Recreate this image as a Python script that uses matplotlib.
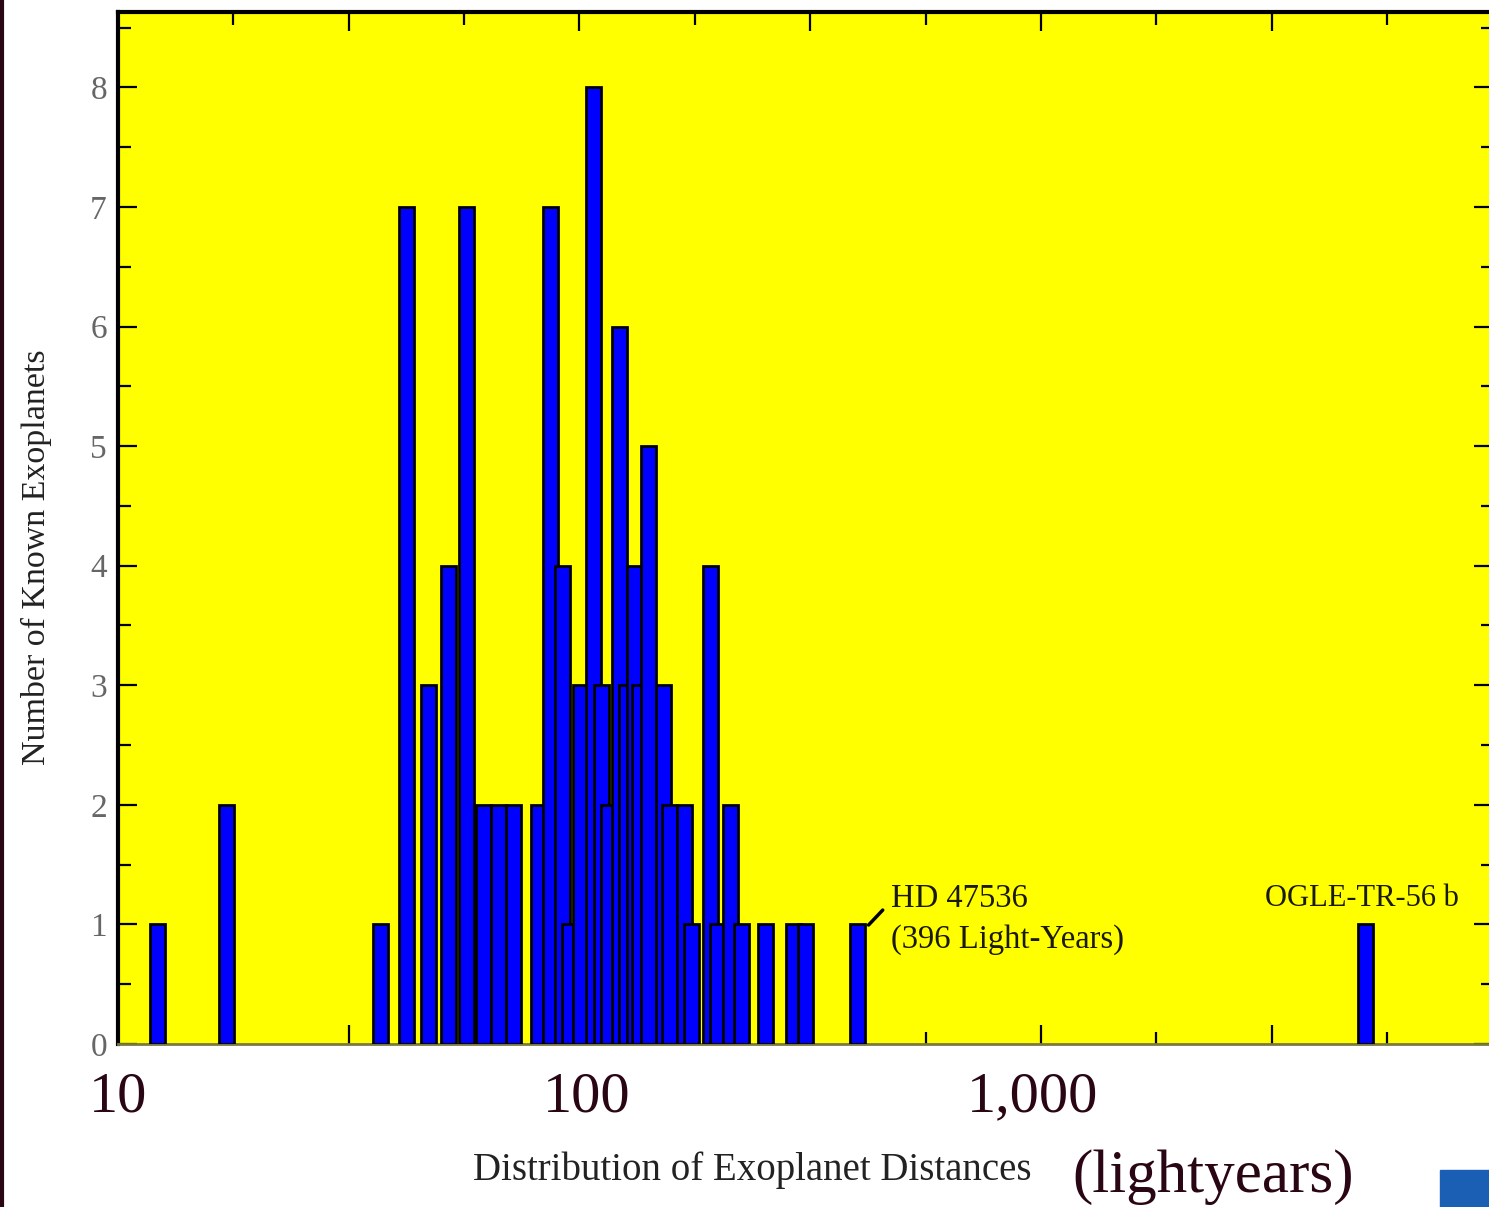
import numpy as np
import matplotlib
matplotlib.use("Agg")
import matplotlib.pyplot as plt
from matplotlib.ticker import FixedLocator, NullFormatter
from matplotlib.lines import Line2D
from matplotlib.patches import Rectangle

# ---- data (distance in light-years, number of planets) ----
distances = [12.2, 17.2, 37.1, 42.1, 47.0, 51.9, 56.8, 61.8, 66.7, 71.9,
             81.4, 86.5, 91.9, 95.1, 100.5, 107.3, 111.6, 115.6, 122.2, 126.5,
             131.7, 134.9, 141.3, 152.3, 156.9, 169.1, 175.2, 192.7, 199.5,
             212.9, 223.9, 252.5, 290.4, 308.4, 400.0, 5050.0]
counts = [1, 2, 1, 7, 3, 4, 7, 2, 2, 2,
          2, 7, 4, 1, 3, 8, 3, 2, 6, 3,
          4, 3, 5, 3, 2, 2, 1, 4, 1,
          2, 1, 1, 1, 1, 1, 1]
y_ticks = [0, 1, 2, 3, 4, 5, 6, 7, 8]
x_labels = ["10", "100", "1,000"]
x_label_vals = [10, 100, 1000]
x_label_shift_px = [0, 7, -8]

YELLOW = "#FFFF00"
BLUE = "#0000FF"
MAROON = "#2a0614"
SERIF = ["Liberation Serif", "DejaVu Serif"]

fig = plt.figure(figsize=(14.89, 12.07), dpi=100)
fig.patch.set_facecolor("white")
ax = fig.add_axes([118 / 1489, 1 - 1044 / 1207, (1489 - 118) / 1489 + 0.003, (1044 - 12) / 1207])
ax.set_facecolor(YELLOW)
ax.set_xscale("log")
decade_px = 460.0
ax.set_xlim(10, 10 ** (1 + (1489 - 118) / decade_px))
ax.set_ylim(0, 8.63)

# bars of constant pixel width on the log axis
hw = 7.5 / decade_px
d = np.array(distances)
lefts = d * 10 ** (-hw)
widths = d * (10 ** hw - 10 ** (-hw))
ax.bar(lefts, counts, width=widths, align="edge", color=BLUE,
       edgecolor="black", linewidth=2.0, zorder=3)

# ticks
maj = [10 ** (1 + 0.5 * k) for k in range(0, 7)]
mnr = [10 ** (1.25 + 0.5 * k) for k in range(0, 6)]
ax.xaxis.set_major_locator(FixedLocator(maj))
ax.xaxis.set_minor_locator(FixedLocator(mnr))
ax.xaxis.set_major_formatter(NullFormatter())
ax.xaxis.set_minor_formatter(NullFormatter())
ax.yaxis.set_major_locator(FixedLocator(y_ticks))
ax.yaxis.set_minor_locator(FixedLocator([v + 0.5 for v in y_ticks]))
ax.tick_params(which="both", direction="in", top=True, right=True, color="black")
ax.tick_params(which="major", length=14, width=1.6)
ax.tick_params(which="minor", length=9, width=1.6)
ax.tick_params(axis="y", which="major", labelsize=24, labelcolor="#666666", pad=8)
for lab in ax.get_yticklabels():
    lab.set_family(SERIF)

for side in ["left", "top"]:
    ax.spines[side].set_linewidth(3)
    ax.spines[side].set_color("black")
ax.spines["bottom"].set_color("#7a7a40")
ax.spines["bottom"].set_linewidth(2)
ax.spines["right"].set_visible(False)

# x tick labels (overlaid, large serif)
for v, t, s in zip(x_label_vals, x_labels, x_label_shift_px):
    ax.annotate(t, xy=(v, 0), xycoords=("data", "axes fraction"),
                xytext=(s, -53), textcoords="offset pixels",
                ha="center", va="center", fontsize=42,
                family=SERIF, color=MAROON, annotation_clip=False)

ax.set_ylabel("Number of Known Exoplanets", fontsize=24.5, family=SERIF,
              color="#222222")
ax.yaxis.set_label_coords(-66 / 1371, 0.472)
fig.text(752 / 1489, 1 - 1170 / 1207, "Distribution of Exoplanet Distances",
         ha="center", va="center", fontsize=28, family=SERIF, color="#222222")
fig.text(1213 / 1489, 1 - 1177 / 1207, "(lightyears)", ha="center", va="center",
         fontsize=44, family=SERIF, color=MAROON)

# annotations
ax.annotate("", xy=(423, 0.995), xytext=(454, 1.12),
            arrowprops=dict(arrowstyle="-", color="black", lw=2.5,
                            shrinkA=0, shrinkB=0))
ax.text(472, 1.345, "HD 47536\n(396 Light-Years)", fontsize=23.5, family=SERIF,
        color="#1a1a00", ha="left", va="top", linespacing=1.45)
ax.text(4950, 1.34, "OGLE-TR-56 b", fontsize=22, family=SERIF, color="#1a1a00",
        ha="center", va="top")

# left border line of the image and small logo block
fig.add_artist(Line2D([0.0012, 0.0012], [0, 1], color=MAROON, lw=3))
fig.add_artist(Rectangle((1440 / 1489, 0), 49 / 1489, 37 / 1207,
                         color="#1a5fb4", transform=fig.transFigure))

fig.savefig("out.png", dpi=100)
